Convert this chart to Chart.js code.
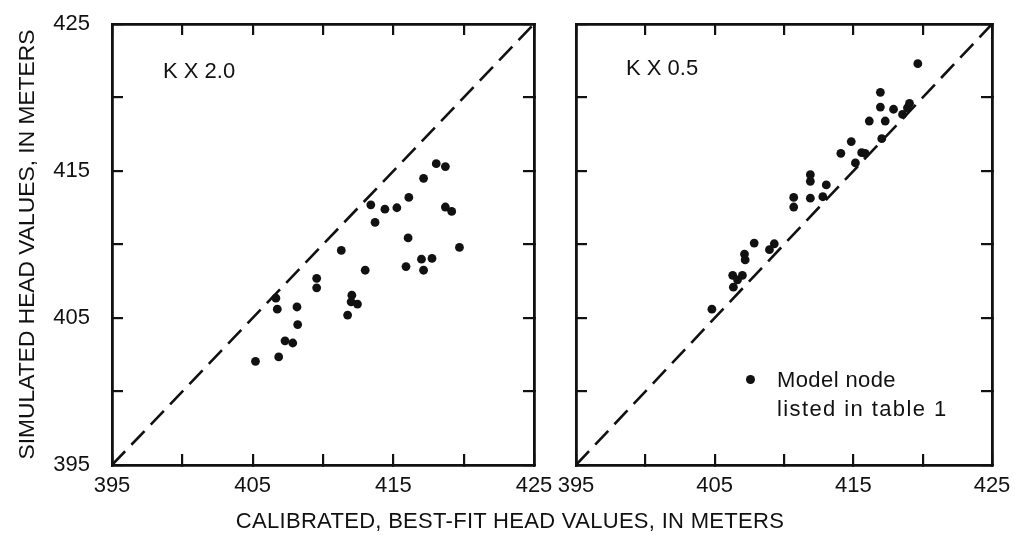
<!DOCTYPE html>
<html>
<head>
<meta charset="utf-8">
<script src="https://cdn.jsdelivr.net/npm/chart.js@4.4.1/dist/chart.umd.min.js"></script>
<style>
  body { margin: 0; background: #fff; width: 1015px; height: 535px; position: relative; overflow: hidden; }
  #leftBox { position: absolute; left: 0; top: 0; width: 555px; height: 535px; }
  #rightBox { position: absolute; left: 555px; top: 0; width: 460px; height: 535px; }
  .txt { position: absolute; font-family: "Liberation Sans", Arial, sans-serif; color: #111; font-size: 22px; line-height: 22px; white-space: nowrap; }
  #xTitle { left: 0; width: 1020px; text-align: center; top: 510px; letter-spacing: 0.3px; }
  .dot { position: absolute; width: 9px; height: 9px; border-radius: 50%; background: #111; }
</style>
</head>
<body>
<div id="leftBox"><canvas id="leftChart"></canvas></div>
<div id="rightBox"><canvas id="rightChart"></canvas></div>
<div class="txt" style="left:163px; top:60px;">K X 2.0</div>
<div class="txt" style="left:626px; top:57px;">K X 0.5</div>
<div class="dot" style="left:746px; top:375px;"></div>
<div class="txt" style="left:777px; top:369px; letter-spacing:0.4px;">Model node</div>
<div class="txt" style="left:777px; top:398px; letter-spacing:1.4px;">listed in table 1</div>
<div class="txt" id="xTitle">CALIBRATED, BEST-FIT HEAD VALUES, IN METERS</div>
<script>
// axis range (meters)
const axisMin = 395;
const axisMax = 425;
const tickStep = 5;

// K x 2.0 : calibrated head vs simulated head
const calibX2 = [405.2, 406.85, 406.65, 406.75, 407.3, 407.85, 408.15, 408.2, 409.55, 409.55,
  411.3, 411.75, 412.05, 412.0, 412.45, 413.0, 413.4, 413.7, 414.4, 415.25,
  416.1, 416.05, 415.9, 417.15, 417.0, 417.15, 417.75, 418.05, 418.7, 418.7,
  419.15, 419.7];
const simX2 = [402.05, 402.35, 406.35, 405.6, 403.45, 403.3, 405.75, 404.55, 407.7, 407.05,
  409.6, 405.2, 406.55, 406.1, 405.95, 408.25, 412.7, 411.5, 412.4, 412.5,
  413.2, 410.45, 408.5, 414.5, 409.0, 408.25, 409.05, 415.5, 415.3, 412.55,
  412.25, 409.8];

// K x 0.5
const calibX05 = [404.8, 406.35, 406.3, 407.0, 406.65, 407.15, 407.2, 407.85, 408.95, 409.3,
  410.7, 410.7, 411.9, 411.9, 411.9, 412.8, 413.05, 414.1, 414.85, 415.15,
  415.6, 415.85, 416.15, 416.95, 416.95, 417.3, 417.05, 417.9, 418.55, 418.9,
  419.05, 419.65];
const simX05 = [405.6, 407.1, 407.9, 407.9, 407.6, 409.35, 408.95, 410.1, 409.65, 410.05,
  413.2, 412.55, 414.75, 414.3, 413.15, 413.25, 414.05, 416.2, 417.0, 415.55,
  416.25, 416.2, 418.4, 420.35, 419.35, 418.4, 417.2, 419.2, 418.85, 419.3,
  419.6, 422.3];

const ink = '#111';
const fontFamily = '"Liberation Sans", Arial, sans-serif';

function toPoints(xs, ys) {
  return xs.map((x, i) => ({ x: x, y: ys[i] }));
}

// fixed box size for an axis, and no extra room for half labels
function fixBox(s, key, val) {
  s[key] = val;
  s.paddingLeft = 0;
  s.paddingRight = 0;
  s.paddingTop = 0;
  s.paddingBottom = 0;
}

// build one panel; side sizes fix the plot box inside the canvas
function makePanel(canvasId, xs, ys, sizes, showYLabels) {
  const tickFont = { family: fontFamily, size: 22 };
  const frame = { display: true, color: ink, width: 2.8 };
  const inward = { drawOnChartArea: false, color: ink, lineWidth: 2.2, tickLength: -11 };

  return new Chart(document.getElementById(canvasId), {
    type: 'scatter',
    data: {
      datasets: [
        {
          data: toPoints(xs, ys),
          backgroundColor: ink,
          borderWidth: 0,
          pointRadius: 4.4,
          pointHoverRadius: 4.4
        },
        {
          type: 'line',
          data: [{ x: axisMin, y: axisMin }, { x: axisMax, y: axisMax }],
          borderColor: ink,
          borderWidth: 2.6,
          borderDash: [19, 9],
          pointRadius: 0,
          fill: false
        }
      ]
    },
    options: {
      responsive: true,
      maintainAspectRatio: false,
      animation: false,
      layout: { padding: 0 },
      plugins: { legend: { display: false }, tooltip: { enabled: false } },
      scales: {
        x: {
          type: 'linear', position: 'bottom', min: axisMin, max: axisMax,
          border: frame, grid: inward,
          ticks: {
            stepSize: tickStep, color: ink, font: tickFont, padding: 19, maxRotation: 0,
            callback: v => ((v - axisMin) % 10 === 0 ? v : '')
          },
          afterFit: s => fixBox(s, 'height', sizes.bottom)
        },
        xTop: {
          type: 'linear', position: 'top', min: axisMin, max: axisMax,
          border: frame, grid: inward,
          ticks: { stepSize: tickStep, display: false },
          afterFit: s => fixBox(s, 'height', sizes.top)
        },
        y: {
          type: 'linear', position: 'left', min: axisMin, max: axisMax,
          border: frame, grid: inward,
          ticks: {
            display: showYLabels, stepSize: tickStep, color: ink, font: tickFont, padding: 33,
            callback: v => ((v - axisMin) % 10 === 0 ? v : '')
          },
          title: {
            display: showYLabels,
            text: 'SIMULATED HEAD VALUES, IN METERS',
            color: ink,
            font: { family: fontFamily, size: 22.8 },
            padding: { top: 14, bottom: 0 }
          },
          afterFit: s => fixBox(s, 'width', sizes.left)
        },
        yRight: {
          type: 'linear', position: 'right', min: axisMin, max: axisMax,
          border: frame, grid: inward,
          ticks: { stepSize: tickStep, display: false },
          afterFit: s => fixBox(s, 'width', sizes.right)
        }
      }
    }
  });
}

makePanel('leftChart', calibX2, simX2, { left: 112, right: 21, top: 24, bottom: 70 }, true);
makePanel('rightChart', calibX05, simX05, { left: 21, right: 23, top: 24, bottom: 70 }, false);
</script>
</body>
</html>
